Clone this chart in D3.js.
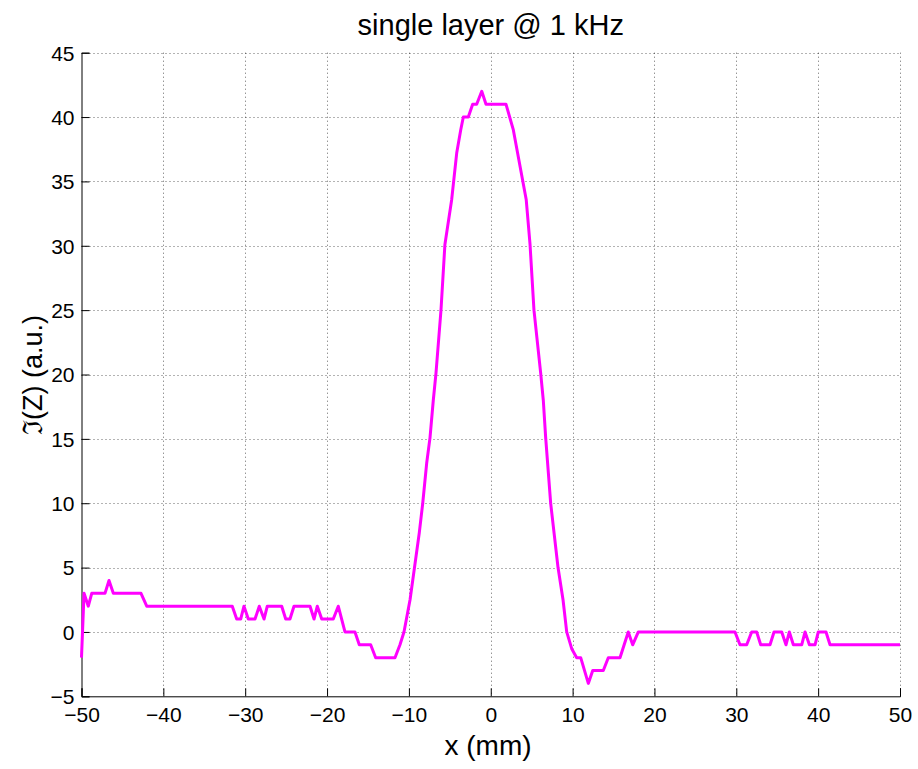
<!DOCTYPE html>
<html>
<head>
<meta charset="utf-8">
<script src="https://cdn.jsdelivr.net/npm/d3@7"></script>
<style>
  html, body { margin: 0; padding: 0; background: #fff; }
  svg { display: block; }
  text { font-family: Arial, "Liberation Sans", sans-serif; fill: #000; }
</style>
</head>
<body>
<svg id="chart" width="918" height="769"></svg>
<script>
// Scan position along the sample (mm)
const xPos = [
  -50, -49.69, -49.17, -48.75, -47.13, -46.64, -46.11, -42.73, -42.03,
  -31.58, -31.04, -30.55, -30.15, -29.62, -28.80, -28.28, -27.70, -27.30,
  -25.54, -25.05, -24.53, -24.04, -22.08, -21.59, -21.19, -20.65, -19.24,
  -18.63, -17.81, -16.59, -16.06, -14.67, -14.06, -11.70, -11.09, -10.60,
  -9.86, -8.73, -8.31, -7.83, -7.42, -7.02, -6.69, -6.08, -5.60, -4.77,
  -4.16, -3.67, -3.35, -2.74, -2.21, -1.72, -1.10, -0.58, 1.86, 2.76,
  4.33, 4.80, 5.28, 6.10, 6.42, 6.71, 7.32, 8.22, 8.83, 9.28,
  9.89, 10.50, 10.99, 11.92, 12.46, 13.75, 14.36, 15.79, 16.80, 17.34,
  18.03, 29.84, 30.45, 31.27, 31.88, 32.49, 32.98, 34.12, 34.61, 35.55,
  36.07, 36.48, 36.97, 37.99, 38.40, 38.93, 39.62, 40.02, 40.96, 41.45, 50
];
// Imaginary part of the impedance (a.u.)
const imZ = [
  -2, 3, 2, 3, 3, 4, 3, 3, 2,
  2, 1, 1, 2, 1, 1, 2, 1, 2,
  2, 1, 1, 2, 2, 1, 2, 1, 1,
  2, 0, 0, -1, -1, -2, -2, -1, 0,
  2.5, 7.7, 10, 13.1, 15.1, 18, 20.1, 25, 30.1, 33.6,
  37.2, 39, 40, 40, 41, 41, 42, 41, 41, 39,
  33.6, 30.1, 25, 20.1, 18, 15.1, 10, 5, 2.5, 0,
  -1.3, -2, -2, -4, -3, -3, -2, -2, 0, -1,
  0, 0, -1, -1, 0, 0, -1, -1, 0, 0,
  -1, 0, -1, -1, 0, -1, -1, 0, 0, -1, -1
];
const xTicks = [-50, -40, -30, -20, -10, 0, 10, 20, 30, 40, 50];
const yTicks = [-5, 0, 5, 10, 15, 20, 25, 30, 35, 40, 45];
const titleText = "single layer @ 1 kHz";
const xLabel = "x (mm)";
const yLabel = "\u2111(Z) (a.u.)";

const svg = d3.select("#chart");
const plotL = 81.5, plotR = 900, plotT = 52.7, plotB = 696.3;

const x = d3.scaleLinear().domain([-50, 50]).range([plotL, plotR]);
const y = d3.scaleLinear().domain([-5, 45]).range([plotB, plotT]);

// dotted grid
const grid = svg.append("g").attr("stroke", "#000").attr("stroke-opacity", 0.6)
  .attr("stroke-width", 1).attr("stroke-dasharray", "1,3");
grid.selectAll("line.gx").data(xTicks.filter(d => d !== -50)).join("line")
  .attr("x1", d => Math.round(x(d)) + 0.5).attr("x2", d => Math.round(x(d)) + 0.5)
  .attr("y1", plotT).attr("y2", plotB);
grid.selectAll("line.gy").data(yTicks.filter(d => d !== -5)).join("line")
  .attr("y1", d => Math.round(y(d)) + 0.5).attr("y2", d => Math.round(y(d)) + 0.5)
  .attr("x1", plotL).attr("x2", plotR);

// axes with inward ticks
const xAxis = d3.axisBottom(x).tickValues(xTicks).tickSize(-8).tickPadding(14)
  .tickFormat(d3.format("d"));
const yAxis = d3.axisLeft(y).tickValues(yTicks).tickSize(-8).tickPadding(14)
  .tickFormat(d3.format("d"));

const gx = svg.append("g").attr("transform", `translate(0,${plotB})`).call(xAxis);
const gy = svg.append("g").attr("transform", `translate(${plotL},0)`).call(yAxis);
[gx, gy].forEach(g => {
  g.select(".domain").attr("stroke", "#000").attr("stroke-width", 1);
  g.selectAll(".tick line").attr("stroke", "#000");
  g.selectAll(".tick text").attr("font-size", 21)
    .attr("font-family", "Arial, 'Liberation Sans', sans-serif").attr("fill", "#000");
});
gy.selectAll(".tick text").attr("x", -7).attr("dy", "0.35em");
gx.selectAll(".tick text").attr("y", 11);

// data line
const pts = xPos.map((d, i) => [d, imZ[i]]);
svg.append("path").datum(pts)
  .attr("fill", "none").attr("stroke", "#ff00ff").attr("stroke-width", 3)
  .attr("stroke-linejoin", "round")
  .attr("d", d3.line().x(d => x(d[0])).y(d => y(d[1])));

// labels
svg.append("text").attr("x", (plotL + plotR) / 2).attr("y", 35)
  .attr("text-anchor", "middle").attr("font-size", 29).text(titleText);
svg.append("text").attr("x", 488).attr("y", 755)
  .attr("text-anchor", "middle").attr("font-size", 28).text(xLabel);
svg.append("text").attr("transform", "translate(42,375) rotate(-90)")
  .attr("text-anchor", "middle").attr("font-size", 27)
  .attr("font-family", "Arial, 'Liberation Sans', 'DejaVu Sans', sans-serif")
  .text(yLabel);
</script>
</body>
</html>
